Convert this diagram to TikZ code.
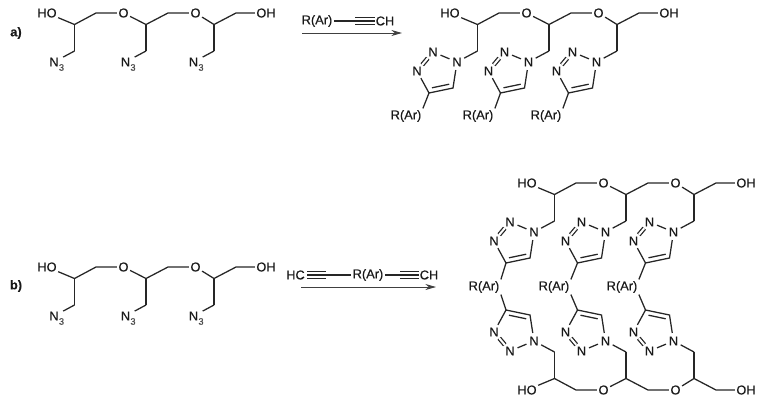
\documentclass[tikz,border=0pt]{standalone}
\usepackage{fontspec}
\setmainfont[FakeBold=0.35]{Liberation Sans}
\usetikzlibrary{arrows.meta}
\tikzset{
  bond/.style={line width=0.95pt,black!85},
  dblbond/.style={bond,double,double distance=1.5pt},
  tplbond/.style={line width=0.8pt,black!85,double,double distance=4.2pt},
  rxnarrow/.style={line width=0.6pt,black!75,-{Stealth[length=8pt,width=4.5pt]}},
  atom/.style={inner sep=1pt,text=black!90,font=\fontsize{9.6}{11}\selectfont},
  ringn/.style={atom,circle,inner sep=0.8pt},
  azn/.style={atom,circle,inner sep=2pt},
  sub/.style={inner sep=0pt,text=black!70,font=\fontsize{7}{8}\selectfont},
  tag/.style={atom,font=\fontsize{9.6}{11}\selectfont\bfseries}
}
% backbone: #1 name, #2 shift, #3 direction of y
\newcommand{\backbone}[3]{
  \begin{scope}[shift={#2},yscale=#3]
    \node[atom] (#1-ho) at (47,13) {HO};
    \coordinate (#1-c1) at (74.5,24.5);
    \coordinate (#1-d1) at (74.5,51);
    \coordinate (#1-e1) at (96,13);
    \node[atom] (#1-o1) at (123.5,13) {O};
    \coordinate (#1-c2) at (146,24.5);
    \coordinate (#1-d2) at (146,51);
    \coordinate (#1-e2) at (168,13);
    \node[atom] (#1-o2) at (195.5,13) {O};
    \coordinate (#1-c3) at (214,24.5);
    \coordinate (#1-d3) at (214,51);
    \coordinate (#1-e3) at (236,13);
    \node[atom] (#1-oh) at (266,13) {OH};
  \end{scope}
  \draw[bond] (#1-ho) -- (#1-c1) -- (#1-e1) -- (#1-o1) -- (#1-c2) -- (#1-e2)
    -- (#1-o2) -- (#1-c3) -- (#1-e3) -- (#1-oh);
  \foreach \i in {1,2,3} {
    \draw[bond] (#1-c\i) -- (#1-d\i);
  }
}
% azide on the arm #2
\newcommand{\azide}[2]{
  \begin{scope}[shift={(#2)}]
    \node[azn] (#1-n) at (-20.5,11) {N};
    \node[sub] (#1-s) at (-13,16.5) {3};
  \end{scope}
  \draw[bond] (#2) -- (#1-n);
}
% triazole on the arm #2, #3 direction of y
\newcommand{\triazole}[3]{
  \begin{scope}[shift={(#2)},yscale=#3]
    \node[ringn] (#1-n1) at (-20.5,11) {N};
    \node[ringn] (#1-n2) at (-44.5,1) {N};
    \node[ringn] (#1-n3) at (-60.5,20) {N};
    \coordinate (#1-c4) at (-48.5,42);
    \coordinate (#1-c5) at (-24.5,37);
    \coordinate (#1-i4) at (-45.5,36.8);
    \coordinate (#1-i5) at (-28.3,33.2);
  \end{scope}
  \draw[bond] (#2) -- (#1-n1) -- (#1-n2);
  \draw[dblbond] (#1-n2) -- (#1-n3);
  \draw[bond] (#1-n3) -- (#1-c4) -- (#1-c5) -- (#1-n1);
  \draw[bond] (#1-i4) -- (#1-i5);
}
\begin{document}
\begin{tikzpicture}[x=0.75pt,y=-0.75pt]
  \useasboundingbox (0,0) rectangle (764,404);

  % a)
  \node[tag] (taga) at (16,33) {a)};
  \backbone{a0}{(0,0)}{1}
  \foreach \i in {1,2,3} {
    \azide{a0-az\i}{a0-d\i}
  }

  \node[atom] (a-r) at (317,21) {R(Ar)};
  \coordinate (a-t1) at (355,21);
  \coordinate (a-t2) at (374.5,21);
  \node[atom] (a-ch) at (385,21) {CH};
  \draw[bond] (a-r) -- (a-t1);
  \draw[tplbond] (a-t1) -- (a-t2);
  \draw[bond] (a-t1) -- (a-t2);
  \coordinate (a-s) at (302,33);
  \coordinate (a-e) at (402,33);
  \draw[rxnarrow] (a-s) -- (a-e);

  \backbone{a1}{(403,0)}{1}
  \foreach \i/\rx in {1/406,2/478,3/546} {
    \triazole{a1-t\i}{a1-d\i}{1}
    \node[atom] (a1-r\i) at (\rx,116) {R(Ar)};
    \draw[bond] (a1-t\i-c4) -- (a1-r\i.north east);
  }

  % b)
  \node[tag] (tagb) at (16,286) {b)};
  \backbone{b0}{(0,254)}{1}
  \foreach \i in {1,2,3} {
    \azide{b0-az\i}{b0-d\i}
  }

  \node[atom] (b-hc) at (295.5,275) {HC};
  \coordinate (b-t1) at (307,275);
  \coordinate (b-t2) at (326,275);
  \node[atom] (b-r) at (368,275) {R(Ar)};
  \coordinate (b-t3) at (400,275);
  \coordinate (b-t4) at (418.5,275);
  \node[atom] (b-ch) at (429,275) {CH};
  \draw[tplbond] (b-t1) -- (b-t2);
  \draw[bond] (b-t1) -- (b-t2);
  \draw[bond] (b-t2) -- (b-r) -- (b-t3);
  \draw[tplbond] (b-t3) -- (b-t4);
  \draw[bond] (b-t3) -- (b-t4);
  \coordinate (b-s) at (301,287);
  \coordinate (b-e) at (436,287);
  \draw[rxnarrow] (b-s) -- (b-e);

  \backbone{b1}{(480,170)}{1}
  \backbone{b2}{(480,403)}{-1}
  \foreach \i/\rx in {1/484,2/554,3/622} {
    \triazole{b1-t\i}{b1-d\i}{1}
    \triazole{b2-t\i}{b2-d\i}{-1}
    \node[atom] (b-r\i) at (\rx,287) {R(Ar)};
    \draw[bond] (b1-t\i-c4) -- (b-r\i.north east);
    \draw[bond] (b2-t\i-c4) -- (b-r\i.south east);
  }
\end{tikzpicture}
\end{document}
